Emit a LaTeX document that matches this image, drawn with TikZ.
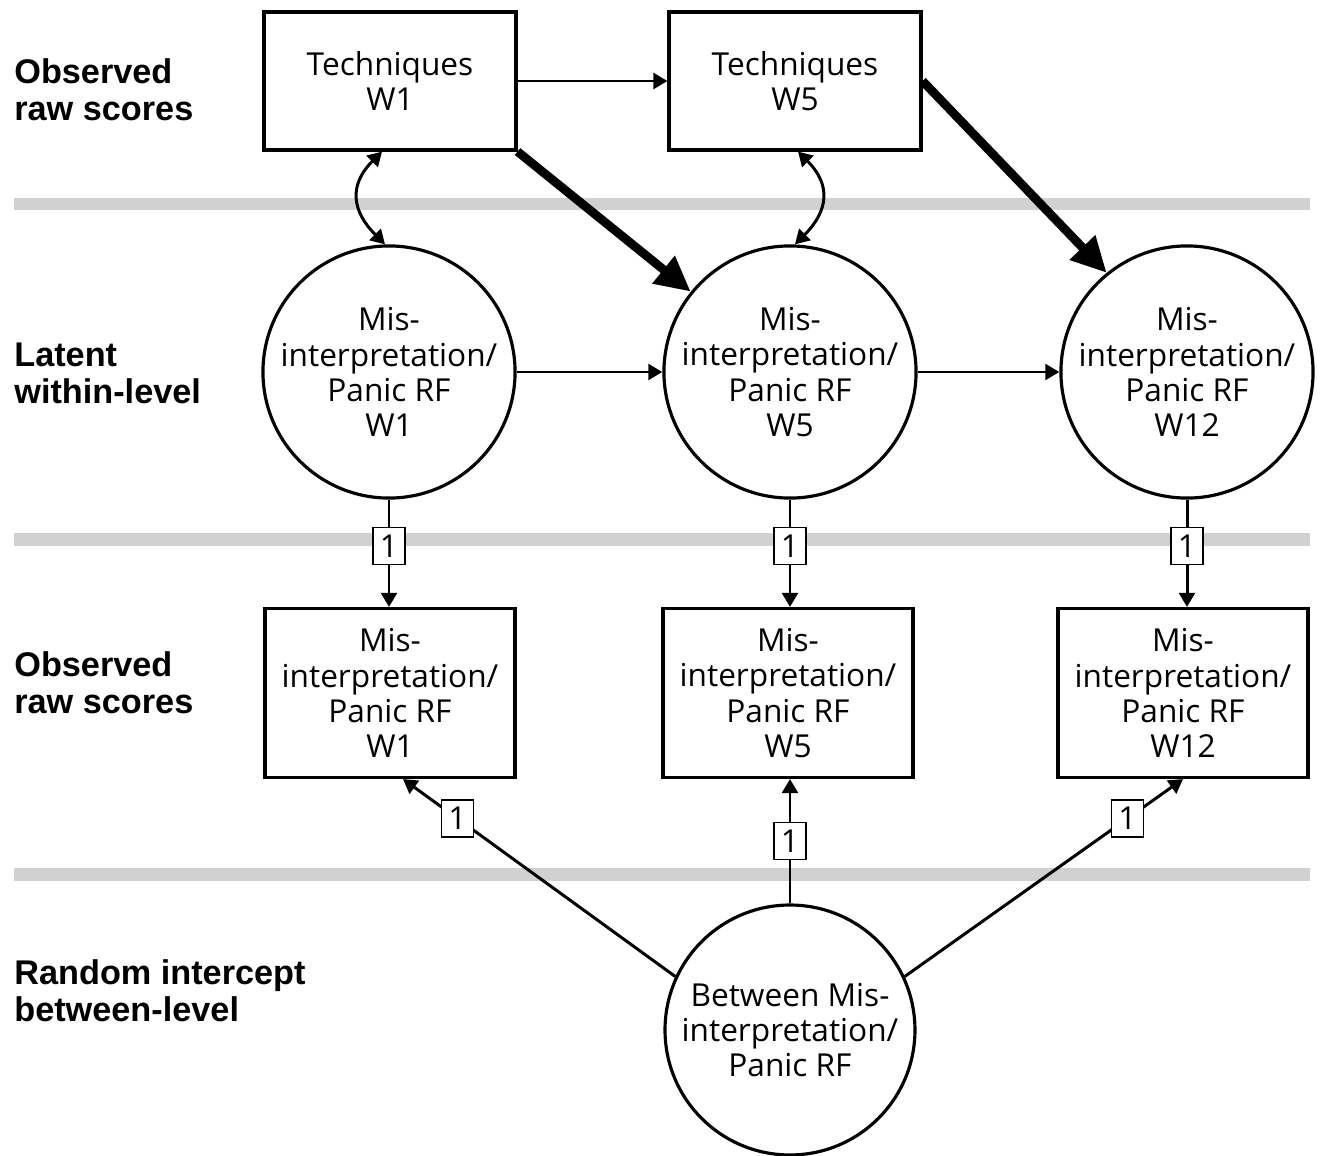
\documentclass[tikz,border=0pt]{standalone}
\usepackage{fontspec}
\setmainfont{Open Sans}
\newfontfamily\rowfont{Liberation Sans}
\usetikzlibrary{arrows.meta,positioning}

\begin{document}
\begin{tikzpicture}[
    x=0.02cm,y=0.02cm,
    font=\fontsize{18}{20}\selectfont,
    >={Triangle[length=8pt,width=9pt]},
    rowlabel/.style={anchor=west,align=left,inner sep=0pt,font=\rowfont\bfseries\fontsize{19.5}{21}\selectfont},
    band/.style={draw=black!18,line width=0.26cm},
    obsbox/.style={draw,line width=1.8pt,fill=white,align=center,minimum width=5.04cm,minimum height=2.76cm},
    rawbox/.style={draw,line width=1.8pt,fill=white,align=center,minimum width=5cm,minimum height=3.38cm},
    latent/.style={draw,circle,line width=1.8pt,fill=white,align=center,inner sep=0pt,minimum size=5cm},
    fixed/.style={draw,fill=white,line width=0.8pt,inner sep=0pt,minimum width=0.64cm,minimum height=0.74cm},
    flow/.style={->,line width=1.7pt},
    heavy/.style={-{Triangle[length=20pt,width=19pt]},line width=5pt}
  ]
    \useasboundingbox (0,0) rectangle (1320,-1156);

    % grey level separators
    \draw[band] (14,-204) -- (1310,-204);
    \draw[band] (14,-539) -- (1310,-539);
    \draw[band] (14,-874) -- (1310,-874);

    \node[rowlabel] (lab1) at (14,-90) {Observed\\raw scores};
    \node[rowlabel] (lab2) at (14,-373) {Latent\\within-level};
    \node[rowlabel] (lab3) at (14,-683) {Observed\\raw scores};
    \node[rowlabel] (lab4) at (14,-991) {Random intercept\\between-level};

    \node[obsbox] (tw1) at (390,-81) {Techniques\\W1};
    \node[obsbox] (tw5) at (795,-81) {Techniques\\W5};

    \node[latent] (lw1) at (389,-372) {Mis-\\interpretation/\\Panic RF\\W1};
    \node[latent] (lw5) at (790,-372) {Mis-\\interpretation/\\Panic RF\\W5};
    \node[latent] (lw12) at (1187,-372) {Mis-\\interpretation/\\Panic RF\\W12};

    \node[rawbox] (ow1) at (390,-693) {Mis-\\interpretation/\\Panic RF\\W1};
    \node[rawbox] (ow5) at (788,-693) {Mis-\\interpretation/\\Panic RF\\W5};
    \node[rawbox] (ow12) at (1183,-693) {Mis-\\interpretation/\\Panic RF\\W12};

    \node[latent] (bw) at (790,-1030) {Between Mis-\\interpretation/\\Panic RF};

    \draw[flow] (tw1.east) -- (tw5.west);
    \draw[flow] (lw1.east) -- (lw5.west);
    \draw[flow] (lw5.east) -- (lw12.west);
    \draw[heavy] (tw1.south east) -- (lw5.141);
    \draw[heavy] (tw5.east) -- (lw12.129);
    \draw[flow,<->] ([xshift=-0.16cm]tw1.south) to[out=-135,in=135,looseness=1.3] ([xshift=-0.08cm]lw1.north);
    \draw[flow,<->] ([xshift=0.06cm]tw5.south) to[out=-45,in=45,looseness=1.3] ([xshift=0.1cm]lw5.north);

    \draw[flow] (lw1.south) -- node[fixed,pos=0.43] {1} (lw1.south |- ow1.north);
    \draw[flow] (lw5.south) -- node[fixed,pos=0.43] {1} (lw5.south |- ow5.north);
    \draw[flow] (lw12.south) -- node[fixed,pos=0.43] {1} (lw12.south |- ow12.north);

    \draw[flow] (bw.155) -- node[fixed,pos=0.8] {1} ([xshift=0.26cm]ow1.south);
    \draw[flow] (bw.north) -- node[fixed,pos=0.5] {1} (bw.north |- ow5.south);
    \draw[flow] (bw.25) -- node[fixed,pos=0.8] {1} (ow12.south);
\end{tikzpicture}
\end{document}
